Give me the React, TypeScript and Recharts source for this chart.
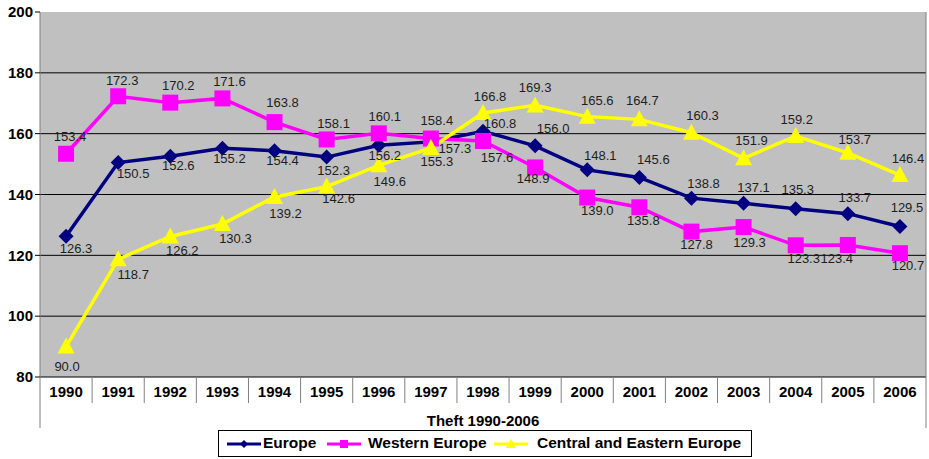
import {
  LineChart,
  Line,
  XAxis,
  YAxis,
  CartesianGrid,
  LabelList,
  Legend,
} from "recharts";

const FONT = '"Liberation Sans", Arial, sans-serif';

const years = [
  "1990", "1991", "1992", "1993", "1994", "1995", "1996", "1997", "1998",
  "1999", "2000", "2001", "2002", "2003", "2004", "2005", "2006",
];
const europe = [
  126.3, 150.5, 152.6, 155.2, 154.4, 152.3, 156.2, 157.3, 160.8, 156.0,
  148.1, 145.6, 138.8, 137.1, 135.3, 133.7, 129.5,
];
const westernEurope = [
  153.4, 172.3, 170.2, 171.6, 163.8, 158.1, 160.1, 158.4, 157.6, 148.9,
  139.0, 135.8, 127.8, 129.3, 123.3, 123.4, 120.7,
];
const centralEastern = [
  90.0, 118.7, 126.2, 130.3, 139.2, 142.6, 149.6, 155.3, 166.8, 169.3,
  165.6, 164.7, 160.3, 151.9, 159.2, 153.7, 146.4,
];
const yTicks = [80, 100, 120, 140, 160, 180, 200];
const title = "Theft 1990-2006";

const rows = years.map((year, i) => ({
  year,
  europe: europe[i],
  western: westernEurope[i],
  central: centralEastern[i],
}));

// where each value label sits relative to its point (dx, dy of label centre)
const europeNudge = [
  [10, 12], [15, 11], [8, 9], [7, 10], [8, 10], [7, 13], [6, 10], [24, 6],
  [17, -8], [18, -18], [13, -15], [14, -18], [12, -15], [10, -16], [2, -19],
  [7, -16], [7, -19],
];
const westernNudge = [
  [4, -17], [4, -16], [8, -17], [7, -17], [8, -20], [7, -16], [6, -17],
  [6, -18], [14, 16], [-2, 11], [10, 13], [4, 13], [5, 13], [6, 15], [8, 13],
  [-11, 13], [8, 12],
];
const centralNudge = [
  [1, 20], [15, 15], [12, 14], [13, 14], [11, 16], [12, 12], [11, 16],
  [6, 13], [7, -17], [0, -18], [10, -16], [3, -19], [11, -17], [8, -18],
  [1, -17], [7, -14], [8, -17],
];

const NAVY = "#000080";
const MAGENTA = "#FF00FF";
const YELLOW = "#FFFF00";

const diamond = (p: any) => {
  const { cx, cy, index } = p;
  if (cx == null || cy == null) return <g key={`d${index}`} />;
  const r = 7.5;
  return (
    <polygon
      key={`d${index}`}
      points={`${cx},${cy - r} ${cx + r},${cy} ${cx},${cy + r} ${cx - r},${cy}`}
      fill={NAVY}
    />
  );
};

const square = (p: any) => {
  const { cx, cy, index } = p;
  if (cx == null || cy == null) return <g key={`s${index}`} />;
  return <rect key={`s${index}`} x={cx - 8} y={cy - 8} width={16} height={16} fill={MAGENTA} />;
};

const triangle = (p: any) => {
  const { cx, cy, index } = p;
  if (cx == null || cy == null) return <g key={`t${index}`} />;
  return (
    <polygon
      key={`t${index}`}
      points={`${cx},${cy - 9} ${cx + 8.5},${cy + 7} ${cx - 8.5},${cy + 7}`}
      fill={YELLOW}
    />
  );
};

const makeLabel = (nudge: number[][]) => (p: any) => {
  const { x, y, value, index } = p;
  const [dx, dy] = nudge[index] ?? [0, -15];
  return (
    <text
      key={`l${index}`}
      x={x + dx}
      y={y + dy}
      dy="0.36em"
      textAnchor="middle"
      fontSize={13}
      fill="#1e1e1e"
      fontFamily={FONT}
    >
      {Number(value).toFixed(1)}
    </text>
  );
};

const YearTick = (p: any) => {
  const { x, y, payload, index } = p;
  const half = payload?.offset || 26;
  const last = index === years.length - 1;
  return (
    <g>
      {index === 0 ? (
        <line x1={x - half} y1={y} x2={x - half} y2={y + 51} stroke="#808080" />
      ) : (
        <line x1={x - half} y1={y} x2={x - half} y2={y + 26} stroke="#808080" />
      )}
      {last && (
        <line x1={x + half} y1={y - 365} x2={x + half} y2={y + 51} stroke="#808080" />
      )}
      <text
        x={x}
        y={y + 15}
        dy="0.36em"
        textAnchor="middle"
        fontSize={15}
        fontWeight="bold"
        fill="#000"
        fontFamily={FONT}
      >
        {payload.value}
      </text>
    </g>
  );
};

const LegendIcon = ({ color, shape }: { color: string; shape: string }) => (
  <svg width={34} height={12} style={{ display: "block" }}>
    <line x1={0} y1={6} x2={34} y2={6} stroke={color} strokeWidth={3} />
    {shape === "d" && <polygon points="17,2 21,6 17,10 13,6" fill={color} />}
    {shape === "s" && <rect x={13} y={2} width={8} height={8} fill={color} />}
    {shape === "t" && <polygon points="17,1 22,10 12,10" fill={color} />}
  </svg>
);

const legendItems = [
  { name: "Europe", color: NAVY, shape: "d", icon: 8, text: 44 },
  { name: "Western Europe", color: MAGENTA, shape: "s", icon: 108, text: 149 },
  { name: "Central and Eastern Europe", color: YELLOW, shape: "t", icon: 275, text: 318 },
];

const LegendBox = () => (
  <div style={{ height: 31, paddingTop: 2, boxSizing: "border-box" }}>
    <div
      style={{
        position: "relative",
        width: 534,
        height: 27,
        border: "1px solid #000",
        boxSizing: "border-box",
        background: "#fff",
        fontFamily: FONT,
        fontWeight: "bold",
        fontSize: 15.5,
        color: "#000",
      }}
    >
      {legendItems.map((it) => (
        <div key={it.name}>
          <div style={{ position: "absolute", left: it.icon, top: 7 }}>
            <LegendIcon color={it.color} shape={it.shape} />
          </div>
          <div style={{ position: "absolute", left: it.text, top: 3, whiteSpace: "nowrap" }}>
            {it.name}
          </div>
        </div>
      ))}
    </div>
  </div>
);

const TitleLabel = (p: any) => {
  const { viewBox } = p;
  if (!viewBox) return null;
  return (
    <text
      x={viewBox.x + viewBox.width / 2}
      y={viewBox.y + 44}
      dy="0.36em"
      textAnchor="middle"
      fontSize={15}
      fontWeight="bold"
      fill="#000"
      fontFamily={FONT}
    >
      {title}
    </text>
  );
};

export default function App() {
  return (
    <div style={{ position: "absolute", left: 0, top: 0, width: 929, height: 459, background: "#fff" }}>
      <LineChart
        width={929}
        height={459}
        data={rows}
        margin={{ top: 12, right: 3, bottom: 0, left: 0 }}
      >
        <CartesianGrid
          vertical={false}
          horizontalValues={[100, 120, 140, 160, 180]}
          stroke="#000"
          fill="#C0C0C0"
          fillOpacity={1}
        />
        <XAxis
          dataKey="year"
          scale="band"
          height={51}
          interval={0}
          tickSize={0}
          tickMargin={0}
          tickLine={false}
          axisLine={{ stroke: "#000" }}
          tick={<YearTick />}
          label={<TitleLabel />}
        />
        <YAxis
          width={40}
          domain={[80, 200]}
          ticks={yTicks}
          interval={0}
          tickSize={5}
          tickLine={{ stroke: "#000" }}
          axisLine={{ stroke: "#808080" }}
          tick={{ fontSize: 15, fontWeight: "bold", fill: "#000", fontFamily: FONT }}
        />
        <Legend
          verticalAlign="bottom"
          height={31}
          wrapperStyle={{ left: 218, width: 534 }}
          content={() => <LegendBox />}
        />
        <Line
          dataKey="europe"
          stroke={NAVY}
          strokeWidth={3.5}
          dot={diamond}
          activeDot={false}
          isAnimationActive={false}
        >
          <LabelList dataKey="europe" content={makeLabel(europeNudge)} />
        </Line>
        <Line
          dataKey="western"
          stroke={MAGENTA}
          strokeWidth={3.5}
          dot={square}
          activeDot={false}
          isAnimationActive={false}
        >
          <LabelList dataKey="western" content={makeLabel(westernNudge)} />
        </Line>
        <Line
          dataKey="central"
          stroke={YELLOW}
          strokeWidth={3.5}
          dot={triangle}
          activeDot={false}
          isAnimationActive={false}
        >
          <LabelList dataKey="central" content={makeLabel(centralNudge)} />
        </Line>
      </LineChart>
    </div>
  );
}
